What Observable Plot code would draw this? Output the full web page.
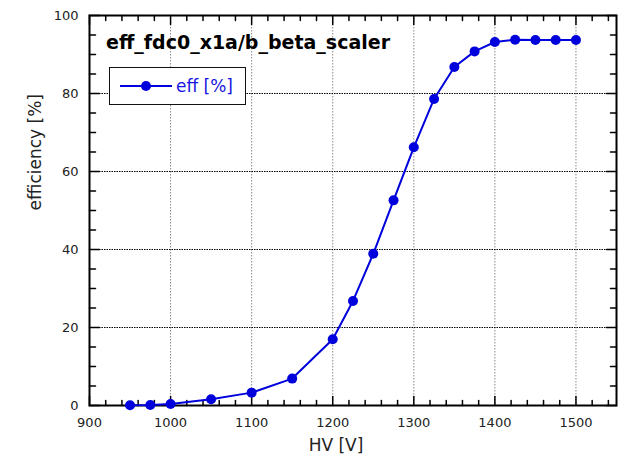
<!DOCTYPE html>
<html>
<head>
<meta charset="utf-8">
<script src="https://cdn.jsdelivr.net/npm/d3@7"></script>
<script src="https://cdn.jsdelivr.net/npm/@observablehq/plot@0.6"></script>
<style>
  html, body { margin: 0; padding: 0; background: #fff; }
  #wrap { position: relative; width: 618px; height: 455px; font-family: "DejaVu Sans", sans-serif; }
  #title { position: absolute; left: 106px; top: 31px; font-weight: bold; font-size: 19px; color: #000; white-space: nowrap; }
  #legend { position: absolute; left: 109px; top: 67px; width: 135px; height: 36px; border: 1.5px solid #111; background: #fff; display: flex; align-items: center; }
  #legend svg { margin-left: 10px; }
  #legend span { color: #1515e0; font-size: 17px; margin-left: 4px; }
</style>
</head>
<body>
<div id="wrap">
  <div id="chart"></div>
  <div id="title"></div>
  <div id="legend"></div>
</div>
<script>
const titleText = "eff_fdc0_x1a/b_beta_scaler";
const seriesName = "eff [%]";
const xLabel = "HV [V]";
const yLabel = "efficiency [%]";

const hv  = [950, 975, 1000, 1050, 1100, 1150, 1200, 1225, 1250, 1275, 1300, 1325, 1350, 1375, 1400, 1425, 1450, 1475, 1500];
const eff = [0.05, 0.15, 0.4, 1.6, 3.3, 6.9, 17.0, 26.8, 38.9, 52.6, 66.2, 78.6, 86.8, 90.8, 93.2, 93.8, 93.7, 93.7, 93.7];

const xTicks = [900, 1000, 1100, 1200, 1300, 1400, 1500];
const yTicks = [0, 20, 40, 60, 80, 100];
const xGrid = [1000, 1100, 1200, 1300, 1400, 1500];
const yGrid = [20, 40, 60, 80];
const xMinor = d3.range(900, 1551, 20).filter(v => v % 100 !== 0);
const yMinor = d3.range(0, 101, 5).filter(v => v % 20 !== 0);

const data = hv.map((h, i) => ({hv: h, eff: eff[i]}));
const blue = "#0000dd";

const tickShape = { draw(ctx, l) { ctx.moveTo(0, 0); ctx.lineTo(0, -l); } };
function ticksX(vals, len) {
  return [
    Plot.vector(vals, {x: d => d, frameAnchor: "bottom", length: len, rotate: 0, anchor: "start", shape: tickShape, stroke: "#000", strokeWidth: 1.5}),
    Plot.vector(vals, {x: d => d, frameAnchor: "top", length: len, rotate: 180, anchor: "start", shape: tickShape, stroke: "#000", strokeWidth: 1.5})
  ];
}
function ticksY(vals, len) {
  return [
    Plot.vector(vals, {y: d => d, frameAnchor: "left", length: len, rotate: 90, anchor: "start", shape: tickShape, stroke: "#000", strokeWidth: 1.5}),
    Plot.vector(vals, {y: d => d, frameAnchor: "right", length: len, rotate: 270, anchor: "start", shape: tickShape, stroke: "#000", strokeWidth: 1.5})
  ];
}

const chart = Plot.plot({
  width: 618,
  height: 455,
  marginLeft: 89,
  marginRight: 2,
  marginTop: 15,
  marginBottom: 50,
  style: {fontFamily: "DejaVu Sans, sans-serif", fontSize: "13px", color: "#222", background: "#fff"},
  x: {domain: [900, 1550]},
  y: {domain: [0, 100]},
  marks: [
    Plot.ruleX(xGrid, {x: d => d, stroke: "#888", strokeWidth: 1, strokeDasharray: "1.5,1.5"}),
    Plot.ruleY(yGrid, {y: d => d, stroke: "#000", strokeWidth: 1, strokeDasharray: "1.5,1"}),
    Plot.axisX(xTicks, {tickSize: 0, tickPadding: 12, label: null, fontSize: 13, tickFormat: d3.format("d")}),
    Plot.axisY(yTicks, {tickSize: 0, tickPadding: 11, label: null, fontSize: 13, tickFormat: d3.format("d")}),
    ...ticksX(xTicks, 9), ...ticksX(xMinor, 5),
    ...ticksY(yTicks, 10), ...ticksY(yMinor, 6),
    Plot.frame({stroke: "#000", strokeWidth: 2}),
    Plot.line(data, {x: "hv", y: "eff", stroke: blue, strokeWidth: 2}),
    Plot.dot(data, {x: "hv", y: "eff", r: 5, fill: blue, stroke: "none"}),
    Plot.text([xLabel], {text: d => d, frameAnchor: "bottom", dy: 45, dx: -17, lineAnchor: "bottom", fontSize: 17, fill: "#222"}),
    Plot.text([yLabel], {text: d => d, frameAnchor: "left", dx: -54, rotate: -90, fontSize: 17, fill: "#222"})
  ]
});
document.getElementById("chart").appendChild(chart);

document.getElementById("title").textContent = titleText;
const leg = document.getElementById("legend");
leg.innerHTML = `<svg width="52" height="12"><line x1="0" y1="6" x2="52" y2="6" stroke="${blue}" stroke-width="2"/><circle cx="26" cy="6" r="5" fill="${blue}"/></svg><span></span>`;
leg.querySelector("span").textContent = seriesName;
</script>
</body>
</html>
